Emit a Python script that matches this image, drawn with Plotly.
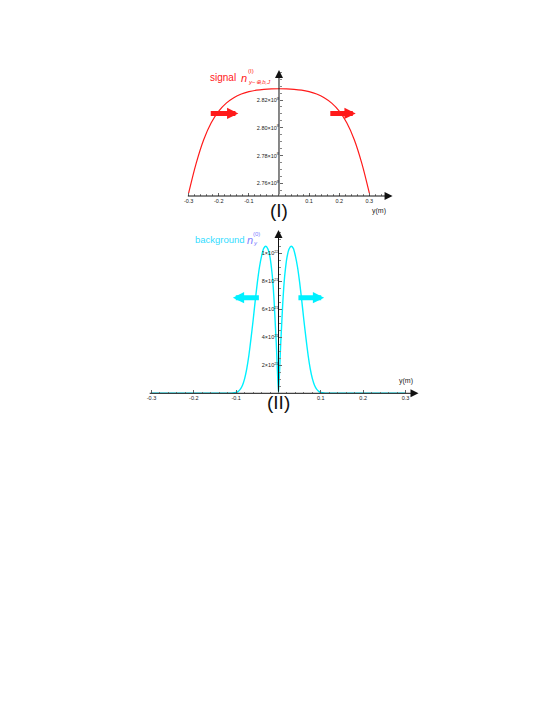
import plotly.graph_objects as go

W, H = 553, 715
OFF = 8  # default page margin around the plot div
FW, FH = W - 2 * OFF, H - 2 * OFF

# panel (I): signal density, y in m, density in units of 1e8
sig_y = [-0.3, -0.275, -0.25, -0.225, -0.2, -0.175, -0.15, -0.125, -0.1, -0.075, -0.05, -0.025, 0.0,
         0.025, 0.05, 0.075, 0.1, 0.125, 0.15, 0.175, 0.2, 0.225, 0.25, 0.275, 0.3]
sig_n = [2.753, 2.7745, 2.7915, 2.8037, 2.8121, 2.8178, 2.8217, 2.8243, 2.826, 2.8271, 2.8277, 2.828, 2.8281,
         2.828, 2.8277, 2.8271, 2.826, 2.8243, 2.8217, 2.8178, 2.8121, 2.8037, 2.7915, 2.7745, 2.753]
sig_xticks = [-0.3, -0.2, -0.1, 0.1, 0.2, 0.3]
sig_yticks = [2.76, 2.78, 2.80, 2.82]
sig_ylabels = ["2.76×10<sup>8</sup>", "2.78×10<sup>8</sup>", "2.80×10<sup>8</sup>", "2.82×10<sup>8</sup>"]

# panel (II): background density, density in units of 1e21
bg_y = [-0.3, -0.12, -0.11, -0.1, -0.095, -0.09, -0.085, -0.08, -0.075, -0.07, -0.065, -0.06, -0.055,
        -0.05, -0.045, -0.04, -0.035, -0.03, -0.025, -0.02, -0.015, -0.0125, -0.01, -0.0075, -0.005,
        -0.0025, 0.0, 0.0025, 0.005, 0.0075, 0.01, 0.0125, 0.015, 0.02, 0.025, 0.03, 0.035, 0.04,
        0.045, 0.05, 0.055, 0.06, 0.065, 0.07, 0.075, 0.08, 0.085, 0.09, 0.095, 0.1, 0.11, 0.12, 0.3]
bg_n = [0.0, 0.0, 0.01, 0.06, 0.14, 0.3, 0.58, 1.05, 1.75, 2.7, 3.9, 5.2, 6.6,
        7.9, 9.0, 9.8, 10.35, 10.5, 10.3, 9.7, 8.5, 7.6, 6.4, 4.9, 3.4,
        1.6, 0.0, 1.6, 3.4, 4.9, 6.4, 7.6, 8.5, 9.7, 10.3, 10.5, 10.35, 9.8,
        9.0, 7.9, 6.6, 5.2, 3.9, 2.7, 1.75, 1.05, 0.58, 0.3, 0.14, 0.06, 0.01, 0.0, 0.0]
bg_xticks = [-0.3, -0.2, -0.1, 0.1, 0.2, 0.3]
bg_yticks = [2, 4, 6, 8, 10]
bg_ylabels = ["2×10<sup>21</sup>", "4×10<sup>21</sup>", "6×10<sup>21</sup>", "8×10<sup>21</sup>", "1×10<sup>22</sup>"]

RED = "#ff1a1a"
CYAN = "#00f0ff"
FONT = "Liberation Sans, Arial, sans-serif"

# axis ranges (top then bottom)
X1 = [-0.3076, 0.3771]
Y1 = [2.751, 2.8416]
X2 = [-0.3078, 0.3306]
Y2 = [0, 11.66]


def px(x):
    return (x - OFF) / FW


def py(y):
    return 1 - (y - OFF) / FH


fig = go.Figure()
fig.add_trace(go.Scatter(x=sig_y, y=sig_n, mode="lines",
                         line=dict(color=RED, width=1.2, shape="spline", smoothing=1.0),
                         xaxis="x", yaxis="y", hoverinfo="skip"))
fig.add_trace(go.Scatter(x=bg_y, y=bg_n, mode="lines",
                         line=dict(color=CYAN, width=1.4, shape="spline", smoothing=0.6),
                         xaxis="x2", yaxis="y2", hoverinfo="skip"))

tickfont = dict(family=FONT, size=5.5, color="#222")
common = dict(showgrid=False, zeroline=False, showline=False, ticks="inside", tickcolor="#666",
              ticklen=3, tickwidth=0.8, tickfont=tickfont)
minor = dict(ticks="inside", ticklen=1.8, tickcolor="#888", tick0=0)

fig.update_layout(
    width=FW, height=FH, margin=dict(l=0, r=0, t=0, b=0),
    paper_bgcolor="white", plot_bgcolor="rgba(0,0,0,0)", showlegend=False,
    xaxis=dict(domain=[px(185), px(392)], range=X1, anchor="y",
               tickvals=sig_xticks, ticktext=[str(v) for v in sig_xticks],
               minor=dict(dtick=0.02, **minor), **common),
    yaxis=dict(domain=[py(196), py(70)], range=Y1, anchor="free", position=px(278),
               tickvals=sig_yticks, ticktext=sig_ylabels,
               minor=dict(dtick=0.005, **minor), **common),
    xaxis2=dict(domain=[px(146.7), px(418)], range=X2, anchor="y2",
                tickvals=bg_xticks, ticktext=[str(v) for v in bg_xticks],
                minor=dict(dtick=0.02, **minor), **common),
    yaxis2=dict(domain=[py(393.3), py(230)], range=Y2, anchor="free", position=px(277.5),
                tickvals=bg_yticks, ticktext=bg_ylabels,
                minor=dict(dtick=0.5, **minor), **common),
)

ann = []


def arrow(xr, yr, x, y, ax, ay, color, width, size):
    ann.append(dict(xref=xr, yref=yr, axref=xr, ayref=yr, x=x, y=y, ax=ax, ay=ay, text="",
                    showarrow=True, arrowhead=2, arrowsize=size, arrowwidth=width, arrowcolor=color))


# axis lines with arrowheads
arrow("x", "y", X1[1], Y1[0], X1[0], Y1[0], "#111", 1, 1.6)
arrow("x", "y", 0, Y1[1], 0, Y1[0], "#111", 1, 1.6)
arrow("x2", "y2", X2[1], 0, X2[0], 0, "#111", 1, 1.6)
arrow("x2", "y2", 0, Y2[1], 0, 0, "#111", 1, 1.6)

# fat direction arrows
arrow("x", "y", -0.135, 2.8104, -0.2316, 2.8104, RED, 5, 0.45)
arrow("x", "y", 0.2547, 2.8104, 0.1654, 2.8104, RED, 5, 0.45)
arrow("x2", "y2", -0.1078, 6.83, -0.0428, 6.83, CYAN, 5, 0.45)
arrow("x2", "y2", 0.1078, 6.83, 0.0435, 6.83, CYAN, 5, 0.45)


def label(text, x, y, size, color, xanchor="center"):
    ann.append(dict(xref="paper", yref="paper", x=px(x), y=py(y), text=text, showarrow=False,
                    xanchor=xanchor, yanchor="middle", font=dict(family=FONT, size=size, color=color)))


label("signal", 207, 77, 10, RED, "left")
label("<i>n</i>", 238, 78, 11, RED, "left")
label("(I)", 245, 71, 6, RED, "left")
label("<i>y−⊕,b,J</i>", 245, 82, 6, RED, "left")
label("background", 192, 239, 9.5, "#33ddff", "left")
label("<i>n</i>", 244, 240, 11, "#8080ff", "left")
label("(0)", 250, 234, 6, "#8080ff", "left")
label("<i>y</i>", 250, 243, 6, "#8080ff", "left")
label("(I)", 278, 210, 19, "#111")
label("(II)", 278, 402, 19, "#111")
label("y(m)", 378, 211, 7, "#222")
label("y(m)", 405, 381, 7, "#222")

fig.update_layout(annotations=ann)
fig.write_html("out.html")
